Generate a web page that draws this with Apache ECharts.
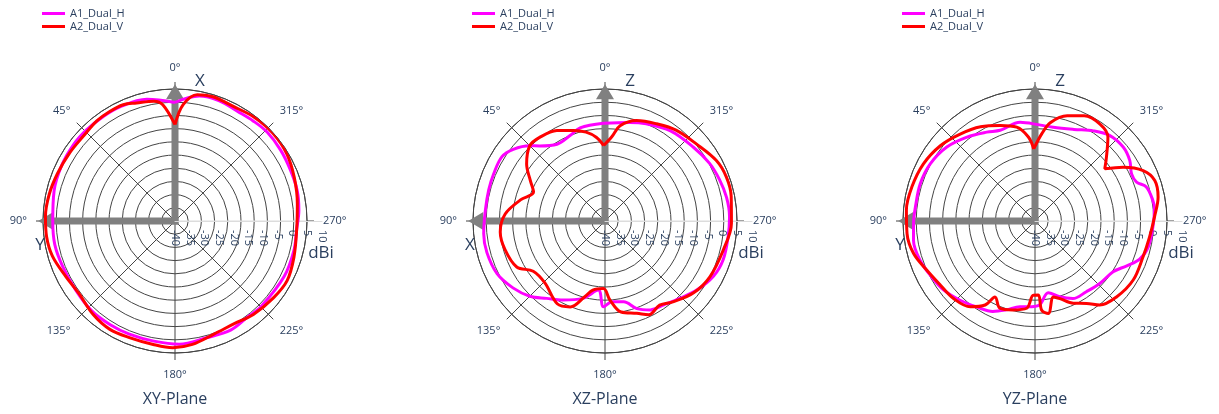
<!DOCTYPE html>
<html><head><meta charset="utf-8">
<script src="https://cdn.jsdelivr.net/npm/echarts@6/dist/echarts.min.js"></script>
<style>html,body{margin:0;padding:0;background:#fff}#c{width:1219px;height:414px}</style>
</head><body><div id="c"></div>
<script>
// ---------- data: [angle (deg), gain (dBi)] ----------
const seriesNames = ['A1_Dual_H', 'A2_Dual_V'];
const planeNames = ['XY-Plane', 'XZ-Plane', 'YZ-Plane'];
const upAxisNames = ['X', 'Z', 'Z'];
const leftAxisNames = ['Y', 'X', 'Y'];
const radialMin = -40, radialMax = 10, radialStep = 5;
const angleStep = 45;

const xyH = [[0,4.9],[13,7.3],[26,8.0],[35,8.0],[44,8.1],[53,8.1],[64,7.8],[76,7.2],[90,6.3],[101,6.4],[112,5.9],[125,5.8],[137,6.4],[148,6.3],[158,6.2],[170,6.2],[182,6.7],[195,5.8],[207,6.4],[217,5.6],[225,6.0],[243,6.4],[256,6.4],[266,6.2],[275,7.1],[284,7.7],[294,7.8],[304,8.2],[314,8.5],[322,8.1],[330,7.8],[340,8.5],[349,8.2],[360,4.9]];
const xyV = [[0,-3.5],[6,4.3],[10,6.1],[18,7.0],[24,8.2],[31,8.3],[38,8.1],[47,7.3],[57,7.5],[68,8.0],[78,8.7],[88,9.1],[97,9.0],[106,8.3],[117,6.4],[127,5.6],[139,7.1],[149,7.9],[159,7.4],[170,7.5],[179,8.0],[188,7.2],[199,5.3],[210,4.9],[220,6.2],[232,7.3],[242,8.1],[253,7.1],[266,6.2],[278,6.8],[290,8.1],[301,9.4],[312,9.8],[323,9.4],[333,8.7],[343,9.2],[350,8.6],[356,4.2],[360,-3.5]];
const xzH = [[1,-3.0],[15,-3.5],[22,-5.0],[32,-5.7],[41,-2.3],[45,0.3],[52,4.1],[58,6.0],[67,5.8],[75,5.6],[85,5.5],[96,6.2],[105,6.3],[116,5.5],[126,3.1],[135,0.3],[143,-3.3],[152,-6.1],[164,-9.5],[174.5,-13.7],[179,-7.5],[185,-9.3],[193,-8.6],[200,-4.7],[207,-2.2],[215,-1.2],[224,0.8],[233,3.5],[243,6.1],[252,7.1],[263,7.0],[272,7.2],[281,6.9],[290,6.1],[299,5.2],[310,3.6],[324,2.2],[337,0.0],[346,-1.5],[361,-3.0]];
const xzV = [[1,-11.4],[6,-8.1],[12,-5.6],[19,-3.7],[28,-1.2],[38,0.2],[45,0.3],[54,-3.3],[61.5,-7.8],[68,-10.8],[76,-7.0],[86,-2.1],[96,-0.1],[106,-0.6],[117.5,-2.3],[125,-6.8],[136,-7.3],[150,-3.8],[158,-4.9],[165,-10.3],[170,-13.4],[178.6,-14.4],[183.6,-10.0],[190,-5.0],[199,-3.0],[205,-0.8],[213,-2.0],[220,0.0],[231,3.2],[242,5.0],[256,6.1],[269,7.9],[281,8.7],[290,8.9],[298.5,8.0],[310,5.3],[322,3.7],[332,1.7],[342.5,-0.1],[351,-3.5],[355.5,-8.1],[361,-11.4]];
const yzH = [[1,-3.2],[8.6,-2.2],[21,-3.2],[28.5,-1.7],[39,0.9],[50,3.6],[61.4,5.2],[72,5.7],[83,5.6],[91,6.0],[99,6.6],[109,6.0],[118.5,4.5],[127,3.4],[136.6,1.3],[146,-0.7],[155,-2.2],[162,-4.6],[170,-7.0],[177,-7.5],[183,-8.1],[190.5,-12.4],[198,-9.8],[206,-7.3],[216,-6.9],[226,-5.9],[237,-4.7],[244,-1.3],[250,2.2],[257,4.0],[267,4.7],[276,5.5],[280,5.3],[287,4.1],[291,1.2],[296,0.7],[302.6,2.6],[310,3.6],[319,3.0],[327,0.7],[337,-2.3],[349,-3.8],[361,-3.2]];
const yzV = [[1,-12.7],[4.5,-8.1],[11,-3.8],[20,-1.5],[30,1.2],[41,3.5],[51.5,5.8],[63,7.5],[74.6,8.4],[85,8.9],[95.6,8.7],[105,7.6],[114.5,5.0],[124,3.3],[133.6,2.6],[143,0.7],[149.3,-3.0],[152.2,-7.5],[158,-4.4],[166,-5.3],[174.6,-6.8],[178.7,-11.9],[182.6,-11.9],[184.3,-6.1],[188.2,-4.6],[193.6,-10.4],[197.8,-9.1],[205,-5.6],[212,-3.2],[217.6,0.2],[227,2.2],[239,3.4],[251.6,3.1],[262,3.8],[272,5.3],[281,7.5],[288.7,7.9],[295,5.2],[301.4,-0.9],[306.8,-7.0],[311.8,-3.7],[319,2.1],[326,4.2],[335,4.0],[343,1.7],[351,-2.2],[355.6,-6.9],[361,-12.7]];

const planeData = [[xyH, xyV], [xzH, xzV], [yzH, yzV]];

// ---------- layout / style ----------
const CENTERS = [175, 605, 1035], CY = 221, RADIUS = 132, RADIAL_AXIS_LEN = 147;
const COLORS = ['#ff00ff', '#ff0000'];
const TXT = '#2a3f5f', GRID = '#444', LIGHT = '#dcdcdc';
const FONT = '"Open Sans", verdana, arial, sans-serif';

const chart = echarts.init(document.getElementById('c'));
const polar = [], angleAxis = [], radiusAxis = [], series = [], legend = [];
const grid = [], xAxis = [], yAxis = [];

CENTERS.forEach((cx, i) => {
  polar.push({ center: [cx, CY], radius: RADIUS });
  angleAxis.push({
    polarIndex: i, type: 'value', min: 0, max: 360, interval: angleStep,
    startAngle: 90, clockwise: false,
    axisLine: { show: true, lineStyle: { color: GRID, width: 1 } },
    axisTick: { show: true, length: 7, lineStyle: { color: GRID, width: 1 } },
    axisLabel: { formatter: '{value}°', color: TXT, fontSize: 11, fontFamily: FONT, margin: 16 },
    splitLine: { show: true, lineStyle: { color: [GRID, GRID, GRID, GRID, GRID, GRID, LIGHT, GRID], width: 1 } }
  });
  radiusAxis.push({
    polarIndex: i, type: 'value', min: radialMin, max: radialMax, interval: radialStep,
    axisLine: { show: false }, axisTick: { show: false }, axisLabel: { show: false },
    splitLine: { show: true, lineStyle: { color: GRID, width: 1 } }
  });
  // radial tick-label axis drawn along the 270° direction
  grid.push({ left: cx, top: CY - 20, width: RADIAL_AXIS_LEN, height: 20, show: false });
  xAxis.push({
    gridIndex: i, type: 'value', position: 'bottom', min: radialMin, max: radialMax, interval: radialStep,
    axisLine: { show: true, lineStyle: { color: LIGHT, width: 1 } },
    axisTick: { show: false }, splitLine: { show: false },
    axisLabel: { rotate: -90, margin: 9, showMinLabel: true, showMaxLabel: true, hideOverlap: false,
      color: TXT, fontSize: 11, fontFamily: FONT },
    z: 4
  });
  yAxis.push({ gridIndex: i, type: 'value', show: false, min: 0, max: 1 });
  planeData[i].forEach((arr, k) => {
    series.push({
      type: 'line', name: seriesNames[k], coordinateSystem: 'polar', polarIndex: i,
      data: arr.map(p => [p[1], p[0]]), showSymbol: false, smooth: 0.35,
      lineStyle: { color: COLORS[k], width: 3 }, itemStyle: { color: COLORS[k] },
      z: 5 + k, animation: false
    });
  });
  legend.push({
    left: cx - 138, top: 3, orient: 'vertical', icon: 'rect', itemWidth: 23, itemHeight: 3,
    itemGap: 2, textStyle: { fontSize: 11, color: TXT, fontFamily: FONT },
    data: seriesNames, selectedMode: false
  });
});

chart.setOption({ animation: false, polar, angleAxis, radiusAxis, grid, xAxis, yAxis, series, legend });

// ---------- arrows & annotation text ----------
function toPx(pi, r, a) {
  let p = null;
  try { p = chart.convertToPixel({ polarIndex: pi }, [r, a]); } catch (e) { p = null; }
  if (!p) {
    const cx = CENTERS[pi];
    const rr = (r - radialMin) / (radialMax - radialMin) * RADIUS;
    const t = (90 + a) * Math.PI / 180;
    p = [cx + rr * Math.cos(t), CY - rr * Math.sin(t)];
  }
  return p;
}
function arrow(pi, ang) {
  const C = toPx(pi, radialMin, ang), T = toPx(pi, radialMax + 1.8, ang);
  const dx = T[0] - C[0], dy = T[1] - C[1], L = Math.hypot(dx, dy);
  const d = [dx / L, dy / L], n = [-d[1], d[0]];
  const hw = 3.5, headL = 15, headW = 9;
  const B = [T[0] - d[0] * headL, T[1] - d[1] * headL];
  const S = [C[0] - d[0] * hw, C[1] - d[1] * hw];
  const pts = [
    [S[0] + n[0] * hw, S[1] + n[1] * hw], [B[0] + n[0] * hw, B[1] + n[1] * hw],
    [B[0] + n[0] * headW, B[1] + n[1] * headW], T,
    [B[0] - n[0] * headW, B[1] - n[1] * headW], [B[0] - n[0] * hw, B[1] - n[1] * hw],
    [S[0] - n[0] * hw, S[1] - n[1] * hw]
  ];
  return { type: 'polygon', shape: { points: pts }, style: { fill: '#808080' }, z: 3, silent: true };
}
function label(text, x, y, size) {
  return { type: 'text', x, y, z: 10, silent: true,
    style: { text, fill: TXT, font: size + 'px ' + FONT, textAlign: 'center', textVerticalAlign: 'middle' } };
}
const graphic = [];
CENTERS.forEach((cx, i) => {
  graphic.push(arrow(i, 0), arrow(i, 90));
  graphic.push(label(upAxisNames[i], cx + 25, 81, 17));
  graphic.push(label(leftAxisNames[i], cx - 135, 245, 17));
  graphic.push(label('dBi', cx + 146, 253, 17));
  graphic.push(label(planeNames[i], cx, 399, 16));
});
chart.setOption({ graphic });
</script></body></html>
